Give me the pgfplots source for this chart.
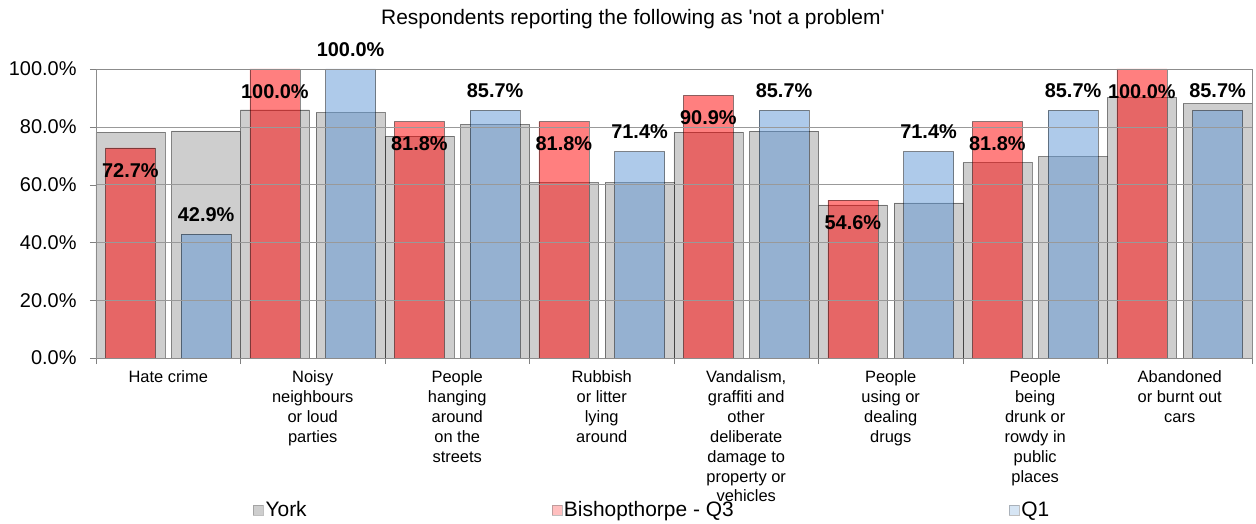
\documentclass[border=0pt]{standalone}
\usepackage{pgfplots}
\pgfplotsset{compat=1.18}
\usepackage{fontspec}
\setmainfont{Liberation Sans}
\definecolor{yorkgray}{RGB}{206,206,206}
\definecolor{bred}{RGB}{255,0,0}
\definecolor{qblue}{RGB}{93,150,213}
\begin{document}
\begin{tikzpicture}
\path[use as bounding box] (-96bp,-166bp) rectangle (1160bp,358bp);
\begin{axis}[
  at={(0,0)}, anchor=south west,
  scale only axis, width=1156bp, height=289bp,
  xmin=-0.5, xmax=7.5, ymin=0, ymax=100,
  ybar, clip=false, axis on top,
  ytick={0,20,...,100},
  yticklabels={0.0\%,20.0\%,40.0\%,60.0\%,80.0\%,100.0\%},
  yticklabel style={font=\fontsize{20}{24}\selectfont, anchor=east, xshift=-10bp},
  xtick={-0.5,0.5,...,7.5}, xticklabels={},
  extra x ticks={0,1,2,3,4,5,6,7},
  extra x tick labels={Hate crime,Noisy\\neighbours\\or loud\\parties,People\\hanging\\around\\on the\\streets,Rubbish\\or litter\\lying\\around,{Vandalism,\\graffiti and\\other\\deliberate\\damage to\\property or\\vehicles},People\\using or\\dealing\\drugs,People\\being\\drunk or\\rowdy in\\public\\places,Abandoned\\or burnt out\\cars},
  extra x tick style={major tick length=0pt, xticklabel style={align=center, anchor=north, yshift=-9bp, font=\fontsize{16.5}{20}\selectfont}},
  tick align=outside, major tick length=6bp,
  xtick pos=bottom, ytick pos=left,
  tick style={draw=black!50},
  ymajorgrids, major grid style={draw=black!40},
  axis line style={draw=black!45},
  title={Respondents reporting the following as \textquotesingle not a problem\textquotesingle},
  title style={at={(0.4645,1.152)}, anchor=center, font=\fontsize{21}{24}\selectfont},
  legend columns=3,
  legend cell align=left,
  legend style={at={(0.1358,-0.526)}, anchor=west, draw=none, inner sep=0pt, fill=none,
    font=\fontsize{21}{24}\selectfont,
    /tikz/every even column/.append style={column sep=0pt}},
]
\addplot[fill=yorkgray, draw=black, draw opacity=0.45, bar width=0.4775, bar shift=-0.262,
  legend image code/.code={\draw[draw=black!55, fill=yorkgray] (0bp,-5bp) rectangle (10bp,5bp);}]
  coordinates {(0,78.1) (1,85.9) (2,76.8) (3,60.7) (4,78.2) (5,53.0) (6,67.6) (7,90.1)};
\addlegendentry{\makebox[284bp][l]{York}}
\addplot[forget plot, fill=yorkgray, draw=black, draw opacity=0.45, bar width=0.4775, bar shift=0.262]
  coordinates {(0,78.6) (1,84.9) (2,80.8) (3,60.7) (4,78.5) (5,53.7) (6,69.7) (7,88.0)};
\addplot[fill=bred, fill opacity=0.5, draw=black, draw opacity=0.45, bar width=0.346, bar shift=-0.262,
  legend image code/.code={\draw[draw=black!55, fill=bred!50] (0bp,-5bp) rectangle (10bp,5bp);},
  point meta=explicit symbolic, nodes near coords,
  every node near coord/.append style={font=\fontsize{20}{24}\selectfont\bfseries, text opacity=1, yshift=-33bp}]
  coordinates {(0,72.7) [72.7\%] (1,100) [100.0\%] (2,81.8) [81.8\%] (3,81.8) [81.8\%] (4,90.9) [90.9\%] (5,54.6) [54.6\%] (6,81.8) [81.8\%] (7,100) [100.0\%]};
\addlegendentry{\makebox[443bp][l]{Bishopthorpe - Q3}}
\addplot[fill=qblue, fill opacity=0.5, draw=black, draw opacity=0.45, bar width=0.346, bar shift=0.262,
  legend image code/.code={\draw[draw=black!55, fill=qblue!50] (0bp,-5bp) rectangle (10bp,5bp);},
  point meta=explicit symbolic, nodes near coords,
  every node near coord/.append style={font=\fontsize{20}{24}\selectfont\bfseries, text opacity=1, yshift=9bp}]
  coordinates {(0,42.9) [42.9\%] (1,100) [100.0\%] (2,85.7) [85.7\%] (3,71.4) [71.4\%] (4,85.7) [85.7\%] (5,71.4) [71.4\%] (6,85.7) [85.7\%] (7,85.7) [85.7\%]};
\addlegendentry{Q1}
\end{axis}
\end{tikzpicture}
\end{document}
